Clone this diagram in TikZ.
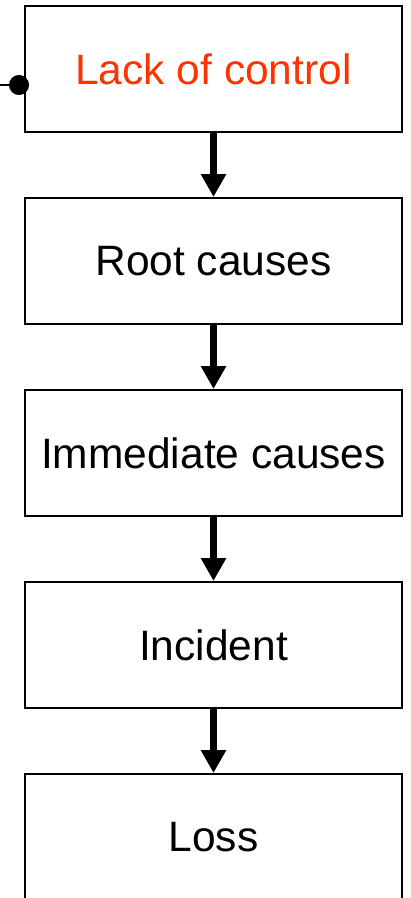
\documentclass[tikz,border=0pt]{standalone}
\usepackage{fontspec}
\setmainfont{Liberation Sans}
\usepackage{xcolor}
\usetikzlibrary{positioning,arrows.meta}

\definecolor{controlred}{RGB}{255,51,0}
\tikzset{
  stage/.style={draw, line width=2pt, minimum width=377pt, minimum height=126pt,
    inner sep=0pt, font=\fontsize{42.5pt}{50pt}\selectfont},
  flow/.style={line width=7pt, -{Triangle[width=24pt,length=23pt]}},
  feed/.style={line width=1.5pt, -{Circle[length=20pt]}, shorten >=-5pt}
}

\begin{document}
\begin{tikzpicture}[x=1pt,y=1pt,node distance=64pt]
\useasboundingbox (0,0) rectangle (411,-898);
\node[stage, text=controlred] (control) at (213.5,-69) {Lack of control};
\node[stage, below=of control] (root) {Root causes};
\node[stage, below=of root] (immediate) {Immediate causes};
\node[stage, below=of immediate] (incident) {Incident};
\node[stage, below=of incident] (loss) {Loss};
\coordinate (in) at (0,-85);
\draw[feed] (in) -- (control.west |- in);
\draw[flow] (control) -- (root);
\draw[flow] (root) -- (immediate);
\draw[flow] (immediate) -- (incident);
\draw[flow] (incident) -- (loss);
\end{tikzpicture}
\end{document}
